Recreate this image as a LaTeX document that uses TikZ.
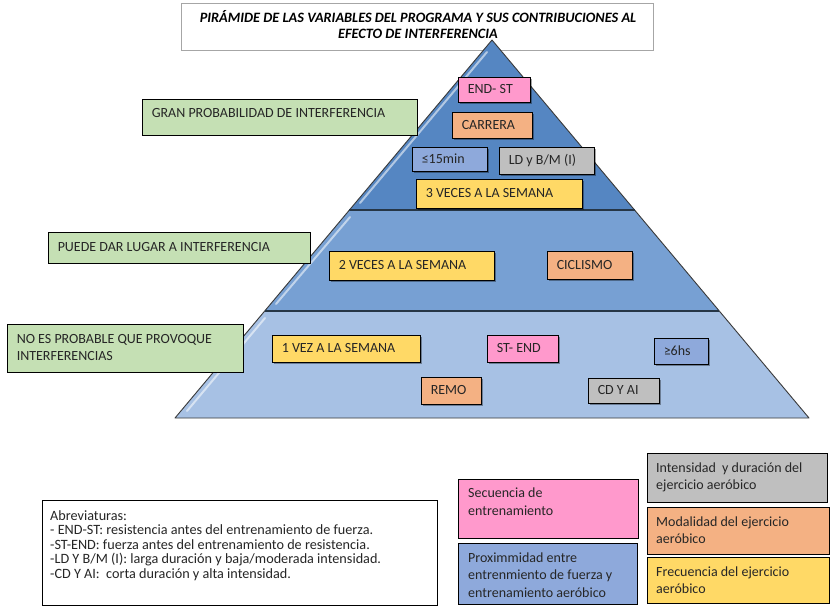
\documentclass[tikz,border=0pt]{standalone}
\usepackage{fontspec}
\setmainfont{Carlito}
\usetikzlibrary{fit,shadows}
\definecolor{cpink}{HTML}{FF99CC}
\definecolor{corange}{HTML}{F4B183}
\definecolor{cblue}{HTML}{8EA9DB}
\definecolor{cgray}{HTML}{BFBFBF}
\definecolor{cyellow}{HTML}{FFD966}
\definecolor{cgreen}{HTML}{C5E0B4}
\definecolor{tierA}{HTML}{5586C2}
\definecolor{tierB}{HTML}{77A0D3}
\definecolor{tierC}{HTML}{A7C1E4}
\definecolor{edgec}{HTML}{3A3A3A}
\definecolor{sepc}{HTML}{263646}
\definecolor{txt}{HTML}{262626}
\tikzset{
  pbox/.style={draw=black, line width=0.9pt, inner sep=0pt,
    drop shadow={shadow xshift=1.6pt, shadow yshift=-1.6pt, opacity=0.35, fill=black}},
  gbox/.style={draw=black, line width=0.9pt, inner sep=0pt},
  lbox/.style={draw=black, line width=0.9pt, inner sep=0pt},
  ptext/.style={font=\fontsize{14}{17}\selectfont, inner sep=0pt, align=left, text=txt},
  ltext/.style={font=\fontsize{14}{17.5}\selectfont, inner sep=0pt, align=left, text=txt, anchor=north west},
  abtext/.style={font=\fontsize{14.2}{14.5}\selectfont, inner sep=0pt, align=left, text=txt, anchor=north west},
  bevel/.style={white, opacity=0.55, line width=2pt, line cap=round},
}
% style, name, colour, x1, y1, x2, y2, text
\newcommand\bx[8]{%
  \node[#1, fill=#3, fit={(#4,#5)(#6,#7)}] (#2) {};
  \node[ptext, anchor=west] (#2t) at ([xshift=10pt]#2.west) {#8};}
\begin{document}
\begin{tikzpicture}[x=1pt,y=-1pt]
\useasboundingbox (0,0) rectangle (834,609);
\fill[white] (0,0) rectangle (834,609);

% title frame
\node[draw=black!35, line width=0.9pt, inner sep=0pt, fit={(181,3)(653,50)}] (titlebox) {};

% pyramid tiers
\fill[tierA] (492,40) -- (349.4,210) -- (634.6,210) -- cycle;
\fill[tierB] (349.4,210) -- (634.6,210) -- (719.3,311) -- (264.7,311) -- cycle;
\fill[tierC] (264.7,311) -- (719.3,311) -- (809,418) -- (175,418) -- cycle;
\draw[bevel] (487,52) -- (360,203);
\draw[bevel] (350,217) -- (276,304);
\draw[bevel] (265,318) -- (187,411);
\draw[edgec, line width=0.9pt, line join=round] (492,40) -- (809,418) -- (175,418) -- cycle;
\draw[sepc, line width=2pt] (349.4,210) -- (634.6,210);
\draw[sepc, line width=2pt] (264.7,311) -- (719.3,311);

% title text
\node[font=\bfseries\itshape\fontsize{14.3}{16}\selectfont, align=center, inner sep=0pt, text=black] (titletext) at (418,25)
  {PIRÁMIDE DE LAS VARIABLES DEL PROGRAMA Y SUS CONTRIBUCIONES AL\\EFECTO DE INTERFERENCIA};

% boxes in pyramid
\bx{pbox}{endst}{cpink}{458}{77}{530}{102}{END- ST}
\bx{pbox}{carrera}{corange}{452}{112}{532}{138}{CARRERA}
\bx{pbox}{minq}{cblue}{412}{147}{487}{171}{≤15min}
\bx{pbox}{ldbm}{cgray}{499}{147}{594}{174}{LD y B/M (I)}
\bx{pbox}{vecesc}{cyellow}{416}{179}{582}{208}{3 VECES A LA SEMANA}
\bx{pbox}{vecesb}{cyellow}{329}{251}{494}{280}{2 VECES A LA SEMANA}
\bx{pbox}{ciclismo}{corange}{547}{251}{632}{279}{CICLISMO}
\bx{pbox}{veza}{cyellow}{272}{335}{420}{362}{1 VEZ A LA SEMANA}
\bx{pbox}{stend}{cpink}{487}{335}{558}{362}{ST- END}
\bx{pbox}{hs}{cblue}{654}{338}{708}{364}{≥6hs}
\bx{pbox}{remo}{corange}{421}{377}{481}{404}{REMO}
\bx{pbox}{cdai}{cgray}{588}{378}{659}{403}{CD Y AI}

% green labels
\node[gbox, fill=cgreen, fit={(142,99)(417,135)}] (gran) {};
\node[ptext, anchor=west] (grant) at ([xshift=10pt,yshift=3.5pt]gran.west) {GRAN PROBABILIDAD DE INTERFERENCIA};
\bx{gbox}{puede}{cgreen}{48}{232}{310}{263}{PUEDE DAR LUGAR A INTERFERENCIA}
\bx{gbox}{noes}{cgreen}{7}{324}{243}{372}{NO ES PROBABLE QUE PROVOQUE\\INTERFERENCIAS}

% legend
\node[lbox, fill=white, fit={(42,500)(437,605)}] (abrev) {};
\node[abtext] (abrevt) at (50,510) {Abreviaturas:\\- END-ST: resistencia antes del entrenamiento de fuerza.\\-ST-END: fuerza antes del entrenamiento de resistencia.\\-LD Y B/M (I): larga duración y baja/moderada intensidad.\\-CD Y AI:~ corta duración y alta intensidad.};

\node[lbox, fill=cpink, fit={(458,479)(638,538)}] (secu) {};
\node[ltext] (secut) at (468,488) {Secuencia de\\entrenamiento};
\node[lbox, fill=cblue, fit={(458,543)(637,604)}] (prox) {};
\node[ltext] (proxt) at (468,552.5) {Proximmidad entre\\entrenmiento de fuerza y\\entrenamiento aeróbico};
\node[lbox, fill=cgray, fit={(647,453)(827,502)}] (inten) {};
\node[ltext] (intent) at (656,462.5) {Intensidad~ y duración del\\ejercicio aeróbico};
\node[lbox, fill=corange, fit={(647,507)(829,554)}] (modal) {};
\node[ltext] (modalt) at (656,516.5) {Modalidad del ejercicio\\aeróbico};
\node[lbox, fill=cyellow, fit={(647,557)(829,603)}] (frec) {};
\node[ltext] (frect) at (656,566.5) {Frecuencia del ejercicio\\aeróbico};
\end{tikzpicture}
\end{document}
